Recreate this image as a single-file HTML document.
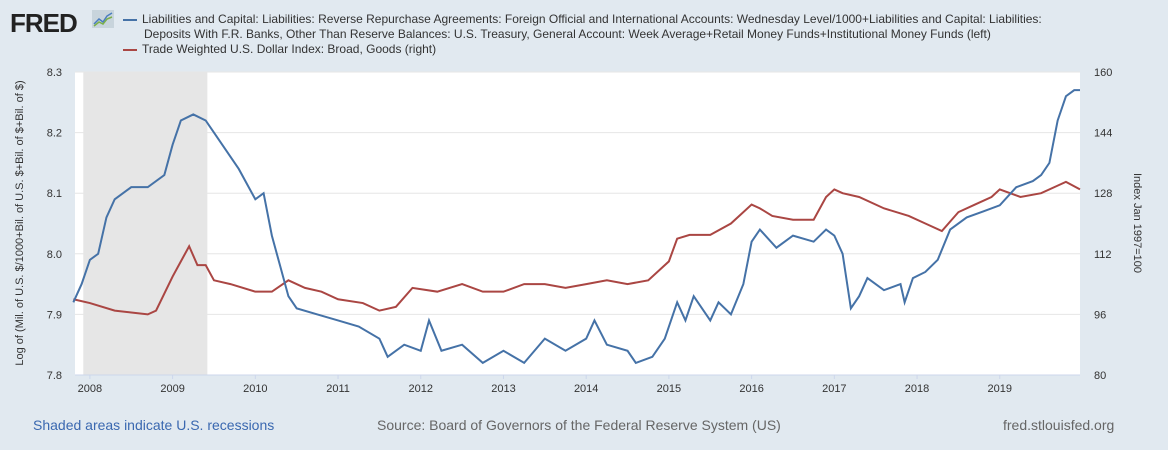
<!DOCTYPE html>
<html><head><meta charset="utf-8">
<style>
body{margin:0;width:1168px;height:450px;background:#e1e9f0;font-family:"Liberation Sans",sans-serif;overflow:hidden;position:relative}
.t{position:absolute;color:#333;font-size:12px}
</style></head><body>
<div style="position:absolute;left:10px;top:8px;font-size:26px;font-weight:bold;color:#222;letter-spacing:-1px">FRED</div>
<svg style="position:absolute;left:92px;top:10px" width="22" height="18"><rect width="22" height="18" fill="#c8d4dc"/><polyline points="2,14 7,9 11,12 15,6 20,3" fill="none" stroke="#4a7dbf" stroke-width="1.5"/><polyline points="2,16 7,12 11,14 15,9 20,7" fill="none" stroke="#7bb04a" stroke-width="1.5"/></svg>
<div class="t" style="left:123px;top:12px;line-height:15px;width:1010px"><span style="display:inline-block;width:14px;height:2px;background:#4572a7;vertical-align:middle;margin-right:5px"></span>Liabilities and Capital: Liabilities: Reverse Repurchase Agreements: Foreign Official and International Accounts: Wednesday Level/1000+Liabilities and Capital: Liabilities:<br><span style="margin-left:21px">Deposits With F.R. Banks, Other Than Reserve Balances: U.S. Treasury, General Account: Week Average+Retail Money Funds+Institutional Money Funds (left)</span></div>
<div class="t" style="left:123px;top:42px"><span style="display:inline-block;width:14px;height:2px;background:#aa4643;vertical-align:middle;margin-right:5px"></span>Trade Weighted U.S. Dollar Index: Broad, Goods (right)</div>
<svg id="c" style="position:absolute;left:0;top:0" width="1168" height="450"></svg>
<div style="position:absolute;left:33px;top:417px;font-size:14px;color:#3a68b0">Shaded areas indicate U.S. recessions</div>
<div style="position:absolute;left:377px;top:417px;font-size:14px;color:#666">Source: Board of Governors of the Federal Reserve System (US)</div>
<div style="position:absolute;left:1003px;top:417px;font-size:14px;color:#666">fred.stlouisfed.org</div>
<script>
const xTicks=[2008,2009,2010,2011,2012,2013,2014,2015,2016,2017,2018,2019];
const leftTicks=[7.8,7.9,8.0,8.1,8.2,8.3];
const rightTicks=[80,96,112,128,144,160];
const recession=[2007.92,2009.42];
const blueT=[2007.8,2007.9,2008.0,2008.1,2008.2,2008.3,2008.5,2008.7,2008.9,2009.0,2009.1,2009.25,2009.4,2009.5,2009.6,2009.8,2010.0,2010.1,2010.2,2010.3,2010.4,2010.5,2010.75,2011.0,2011.25,2011.5,2011.6,2011.8,2012.0,2012.1,2012.25,2012.5,2012.75,2013.0,2013.25,2013.5,2013.75,2014.0,2014.1,2014.25,2014.5,2014.6,2014.8,2014.95,2015.0,2015.1,2015.2,2015.3,2015.5,2015.6,2015.75,2015.9,2016.0,2016.1,2016.3,2016.5,2016.75,2016.9,2017.0,2017.1,2017.2,2017.3,2017.4,2017.6,2017.8,2017.85,2017.95,2018.1,2018.25,2018.4,2018.6,2018.8,2019.0,2019.2,2019.4,2019.5,2019.6,2019.7,2019.8,2019.9,2019.97];
const blueV=[7.92,7.95,7.99,8.0,8.06,8.09,8.11,8.11,8.13,8.18,8.22,8.23,8.22,8.2,8.18,8.14,8.09,8.1,8.03,7.98,7.93,7.91,7.9,7.89,7.88,7.86,7.83,7.85,7.84,7.89,7.84,7.85,7.82,7.84,7.82,7.86,7.84,7.86,7.89,7.85,7.84,7.82,7.83,7.86,7.88,7.92,7.89,7.93,7.89,7.92,7.9,7.95,8.02,8.04,8.01,8.03,8.02,8.04,8.03,8.0,7.91,7.93,7.96,7.94,7.95,7.92,7.96,7.97,7.99,8.04,8.06,8.07,8.08,8.11,8.12,8.13,8.15,8.22,8.26,8.27,8.27];
const redT=[2007.8,2008.0,2008.3,2008.5,2008.7,2008.8,2009.0,2009.1,2009.2,2009.3,2009.4,2009.5,2009.7,2010.0,2010.2,2010.4,2010.6,2010.8,2011.0,2011.3,2011.5,2011.7,2011.9,2012.2,2012.5,2012.75,2013.0,2013.25,2013.5,2013.75,2014.0,2014.25,2014.5,2014.75,2015.0,2015.1,2015.25,2015.5,2015.75,2016.0,2016.1,2016.25,2016.5,2016.75,2016.9,2017.0,2017.1,2017.3,2017.6,2017.9,2018.1,2018.3,2018.5,2018.7,2018.9,2019.0,2019.25,2019.5,2019.7,2019.8,2019.97];
const redV=[100,99,97,96.5,96,97,106,110,114,109,109,105,104,102,102,105,103,102,100,99,97,98,103,102,104,102,102,104,104,103,104,105,104,105,110,116,117,117,120,125,124,122,121,121,127,129,128,127,124,122,120,118,123,125,127,129,127,128,130,131,129];
const L=75,R=1080,T=72,B=375,X0=2007.82,X1=2019.97;
const sx=t=>L+(t-X0)/(X1-X0)*(R-L);
const syL=v=>B-(v-7.8)/0.5*(B-T);
const syR=v=>B-(v-80)/80*(B-T);
const svg=document.getElementById('c');const NS='http://www.w3.org/2000/svg';
function mk(tag,a,p){const e=document.createElementNS(NS,tag);for(const k in a)e.setAttribute(k,a[k]);(p||svg).appendChild(e);return e;}
const bg=mk('rect',{x:L,y:T,width:R-L,height:B-T,fill:'#fff'});


const rec=mk('rect',{x:sx(recession[0]),y:T,width:sx(recession[1])-sx(recession[0]),height:B-T,fill:'#e6e6e6'});


leftTicks.forEach((v,i)=>{
 const g=mk('line',{x1:L,x2:R,y1:syL(v),y2:syL(v),stroke:'#e6e6e6'});
 
 
 const t=mk('text',{x:62,y:syL(v)+4,'text-anchor':'end','font-size':11,fill:'#333'});t.textContent=v.toFixed(1);
 
 
 const r=mk('text',{x:1094,y:syR(rightTicks[i])+4,'font-size':11,fill:'#333'});r.textContent=rightTicks[i];
 
 
});
xTicks.forEach(y=>{
 const t=mk('text',{x:sx(y),y:392,'text-anchor':'middle','font-size':11,fill:'#333'});t.textContent=y;
 
 
 mk('line',{x1:sx(y),x2:sx(y),y1:B,y2:B+4,stroke:'#ccd6eb'});
});
mk('line',{x1:L,x2:R,y1:B,y2:B,stroke:'#ccd6eb'});
const yl=mk('text',{transform:'translate(23,223) rotate(-90)','text-anchor':'middle','font-size':11,fill:'#333'});
yl.textContent='Log of (Mil. of U.S. $/1000+Bil. of U.S. $+Bil. of $+Bil. of $)';


const yr=mk('text',{transform:'translate(1134,223) rotate(90)','text-anchor':'middle','font-size':11,fill:'#333'});
yr.textContent='Index Jan 1997=100';


const rl=mk('polyline',{points:redT.map((t,i)=>sx(t)+','+syR(redV[i])).join(' '),fill:'none',stroke:'#aa4643','stroke-width':2});


const bl=mk('polyline',{points:blueT.map((t,i)=>sx(t)+','+syL(blueV[i])).join(' '),fill:'none',stroke:'#4572a7','stroke-width':2});


</script>
</body></html>
